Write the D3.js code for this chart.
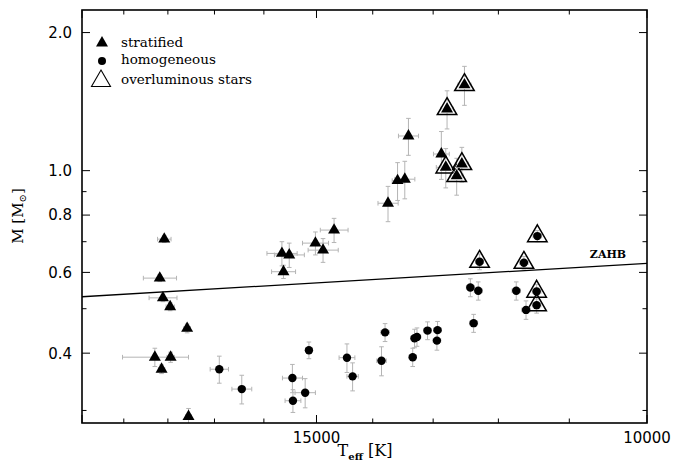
<!DOCTYPE html>
<html lang="en">
<head>
  <meta charset="UTF-8">
  <style>
    body { margin: 0; background: #fff; }
    .tick-label { font-family: "DejaVu Sans", sans-serif; font-size: 15px; fill: #000; }
    .serif { font-family: "DejaVu Serif", serif; fill: #000; }
  </style>
  <title>Mass vs Teff</title>
  <script src="https://d3js.org/d3.v7.min.js"></script>
</head>
<body>
<svg id="chart"></svg>
<script>

// stratified stars
const stratT    = [18080, 18180, 18110, 17950, 17580, 18290, 17940, 18140, 17550,
                   15650, 15510, 15620, 15020, 14880, 14680,
                   13740, 13580, 13460, 13400, 12870, 12800, 12630, 12550, 12780, 12510];
const stratM    = [0.709, 0.583, 0.528, 0.505, 0.453, 0.392, 0.392, 0.369, 0.291,
                   0.660, 0.655, 0.602, 0.695, 0.671, 0.742,
                   0.849, 0.951, 0.958, 1.190, 1.087, 1.017, 0.974, 1.034, 1.363, 1.538];
const stratTErr = [150, 370, 310, 90, 70, 740, 80, 70, 60,
                   290, 285, 230, 240, 275, 250,
                   170, 90, 165, 165, 125, 150, 100, 100, 100, 100];
const stratMErr = [0.012, 0.010, 0.010, 0.010, 0.010, 0.018, 0.010, 0.008, 0.012,
                   0.040, 0.040, 0.020, 0.040, 0.040, 0.045,
                   0.075, 0.090, 0.090, 0.110, 0.130, 0.100, 0.090, 0.090, 0.130, 0.150];
const stratOver = [0, 0, 0, 0, 0, 0, 0, 0, 0,
                   0, 0, 0, 0, 0, 0,
                   0, 0, 0, 0, 0, 1, 1, 1, 1, 1];

// homogeneous stars
const homT    = [16900, 16440, 15450, 15440, 15210, 15140, 14450, 14350, 13850, 13790,
                 13330, 13300, 13260, 13090, 12930, 12940, 12420, 12300, 12370, 12280,
                 11740, 11630, 11600, 11440, 11450, 11450];
const homM    = [0.369, 0.334, 0.353, 0.315, 0.328, 0.406, 0.391, 0.356, 0.385, 0.444,
                 0.392, 0.431, 0.434, 0.448, 0.449, 0.426, 0.556, 0.547, 0.465, 0.633,
                 0.547, 0.630, 0.497, 0.720, 0.545, 0.509];
const homTErr = [190, 200, 190, 150, 190, 60, 140, 100, 80, 70,
                 60, 60, 60, 60, 60, 60, 60, 60, 60, 60,
                 60, 60, 60, 60, 60, 60];
const homMErr = [0.025, 0.024, 0.025, 0.018, 0.024, 0.017, 0.028, 0.025, 0.028, 0.020,
                 0.018, 0.020, 0.020, 0.020, 0.020, 0.020, 0.025, 0.025, 0.021, 0.025,
                 0.025, 0.020, 0.023, 0.020, 0.020, 0.020];
const homOver = [0, 0, 0, 0, 0, 0, 0, 0, 0, 0,
                 0, 0, 0, 0, 0, 0, 0, 0, 0, 1,
                 0, 1, 0, 1, 1, 1];

// zero-age horizontal branch
const zahbT = [20000, 10000];
const zahbM = [0.531, 0.628];

const xMajor = [20000, 15000, 10000];
const xMinor = [19000, 18000, 17000, 16000, 14000, 13000, 12000, 11000];
const xLabels = [15000, 10000];
const yMajor = [0.4, 0.6, 0.8, 1.0, 2.0];
const yMinor = [0.3, 0.5, 0.7, 0.9];

const size = {width: 674, height: 467};
const plot = {left: 82, right: 647, top: 10, bottom: 423};

const svg = d3.select('#chart')
              .attr('width', size.width)
              .attr('height', size.height);

const xScale = d3.scaleLog()
                 .domain([20000, 10000])
                 .range([plot.left, plot.right]);
const yScale = d3.scaleLog()
                 .domain([0.2817, 2.24])
                 .range([plot.bottom, plot.top]);

const strat = stratT.map(function(t, i) {
  return {t: t, m: stratM[i], dt: stratTErr[i], dm: stratMErr[i], over: stratOver[i], kind: 's'};
});
const hom = homT.map(function(t, i) {
  return {t: t, m: homM[i], dt: homTErr[i], dm: homMErr[i], over: homOver[i], kind: 'h'};
});
const stars = strat.concat(hom);

// triangle centred on its centroid
function tri(w) {
  const h = w * Math.sqrt(3) / 2;
  return 'M0,' + (-2 * h / 3) + 'L' + (w / 2) + ',' + (h / 3) + 'L' + (-w / 2) + ',' + (h / 3) + 'Z';
}

const clip = svg.append('clipPath').attr('id', 'clip')
  .append('rect')
  .attr('x', plot.left).attr('y', plot.top)
  .attr('width', plot.right - plot.left).attr('height', plot.bottom - plot.top);

const inner = svg.append('g').attr('clip-path', 'url(#clip)');

// ZAHB line
inner.append('path')
  .datum(zahbT.map(function(t, i) { return [t, zahbM[i]]; }))
  .attr('d', d3.line()
    .x(function(d) { return xScale(d[0]); })
    .y(function(d) { return yScale(d[1]); }))
  .attr('fill', 'none')
  .attr('stroke', '#000')
  .attr('stroke-width', 1.3);

// error bars
const errColor = '#b4b4b4';
const cap = 2.3;
const eb = inner.append('g')
  .attr('stroke', errColor)
  .attr('stroke-width', 1)
  .attr('fill', 'none');

stars.forEach(function(d) {
  const cx = xScale(d.t), cy = yScale(d.m);
  const x0 = xScale(d.t + d.dt), x1 = xScale(d.t - d.dt);
  const y0 = yScale(d.m + d.dm), y1 = yScale(d.m - d.dm);
  eb.append('path').attr('d',
    'M' + x0 + ',' + cy + 'H' + x1 +
    'M' + x0 + ',' + (cy - cap) + 'V' + (cy + cap) +
    'M' + x1 + ',' + (cy - cap) + 'V' + (cy + cap) +
    'M' + cx + ',' + y0 + 'V' + y1 +
    'M' + (cx - cap) + ',' + y0 + 'H' + (cx + cap) +
    'M' + (cx - cap) + ',' + y1 + 'H' + (cx + cap));
});

// overluminous open triangles
inner.selectAll('.over')
  .data(stars.filter(function(d) { return d.over; }))
  .enter()
  .append('path')
  .attr('class', 'over')
  .attr('transform', function(d) { return 'translate(' + xScale(d.t) + ',' + yScale(d.m) + ')'; })
  .attr('d', tri(19.5))
  .attr('fill', 'none')
  .attr('stroke', '#000')
  .attr('stroke-width', 1.5);

// stratified: filled triangles
inner.selectAll('.strat')
  .data(strat)
  .enter()
  .append('path')
  .attr('class', 'strat')
  .attr('transform', function(d) { return 'translate(' + xScale(d.t) + ',' + yScale(d.m) + ')'; })
  .attr('d', tri(12))
  .attr('fill', '#000')
  .attr('stroke', function(d) { return d.over ? '#fff' : 'none'; })
  .attr('stroke-width', 1.2)
  .attr('paint-order', 'stroke');

// homogeneous: filled circles
inner.selectAll('.hom')
  .data(hom)
  .enter()
  .append('circle')
  .attr('class', 'hom')
  .attr('cx', function(d) { return xScale(d.t); })
  .attr('cy', function(d) { return yScale(d.m); })
  .attr('r', 4.2)
  .attr('fill', '#000');

// ticks on all four sides
const axes = svg.append('g').attr('stroke', '#000').attr('stroke-width', 1);
xMajor.concat(xMinor).forEach(function(t) {
  const len = xMajor.indexOf(t) >= 0 ? 8 : 4.5;
  const x = xScale(t);
  axes.append('line').attr('x1', x).attr('x2', x).attr('y1', plot.bottom).attr('y2', plot.bottom - len);
  axes.append('line').attr('x1', x).attr('x2', x).attr('y1', plot.top).attr('y2', plot.top + len);
});
yMajor.concat(yMinor).forEach(function(m) {
  const len = yMajor.indexOf(m) >= 0 ? 8 : 4.5;
  const y = yScale(m);
  axes.append('line').attr('x1', plot.left).attr('x2', plot.left + len).attr('y1', y).attr('y2', y);
  axes.append('line').attr('x1', plot.right).attr('x2', plot.right - len).attr('y1', y).attr('y2', y);
});

svg.append('rect')
  .attr('x', plot.left).attr('y', plot.top)
  .attr('width', plot.right - plot.left).attr('height', plot.bottom - plot.top)
  .attr('fill', 'none')
  .attr('stroke', '#000')
  .attr('stroke-width', 1.6);

// tick labels
svg.selectAll('.xlab')
  .data(xLabels)
  .enter()
  .append('text')
  .attr('class', 'tick-label')
  .attr('x', function(d) { return xScale(d); })
  .attr('y', 443)
  .attr('text-anchor', 'middle')
  .text(function(d) { return d; });

svg.selectAll('.ylab')
  .data(yMajor)
  .enter()
  .append('text')
  .attr('class', 'tick-label')
  .attr('x', 72)
  .attr('y', function(d) { return yScale(d); })
  .attr('dy', '0.36em')
  .attr('text-anchor', 'end')
  .text(function(d) { return d.toFixed(1); });

// axis titles
const xt = svg.append('text')
  .attr('class', 'serif')
  .attr('x', 365)
  .attr('y', 456)
  .attr('text-anchor', 'middle')
  .style('font-size', '16px');
xt.append('tspan').text('T');
xt.append('tspan').attr('dy', 4).style('font-size', '10px').style('font-weight', 'bold').text('eff');
xt.append('tspan').attr('dy', -4).text(' [K]');

const yt = svg.append('text')
  .attr('class', 'serif')
  .attr('transform', 'translate(23,216) rotate(-90)')
  .attr('text-anchor', 'middle')
  .style('font-size', '15px');
yt.append('tspan').text('M [M');
yt.append('tspan').attr('dy', 3).style('font-size', '10px').text('\u2299');
yt.append('tspan').attr('dy', -3).text(']');

// ZAHB label
svg.append('text')
  .attr('class', 'serif')
  .attr('x', 608)
  .attr('y', 258)
  .attr('text-anchor', 'middle')
  .style('font-size', '11px')
  .style('font-weight', 'bold')
  .text('ZAHB');

// legend
const legend = svg.append('g');
legend.append('path').attr('transform', 'translate(102,43)').attr('d', tri(12)).attr('fill', '#000');
legend.append('circle').attr('cx', 102).attr('cy', 61).attr('r', 4).attr('fill', '#000');
legend.append('path').attr('transform', 'translate(101,81)').attr('d', tri(19))
  .attr('fill', 'none').attr('stroke', '#000').attr('stroke-width', 1.1);

const legendText = ['stratified', 'homogeneous', 'overluminous stars'];
const legendY = [47, 64, 84];
legend.selectAll('text')
  .data(legendText)
  .enter()
  .append('text')
  .attr('class', 'serif')
  .attr('x', 121)
  .attr('y', function(d, i) { return legendY[i]; })
  .style('font-size', '13.5px')
  .text(function(d) { return d; });

</script>
</body>
</html>
